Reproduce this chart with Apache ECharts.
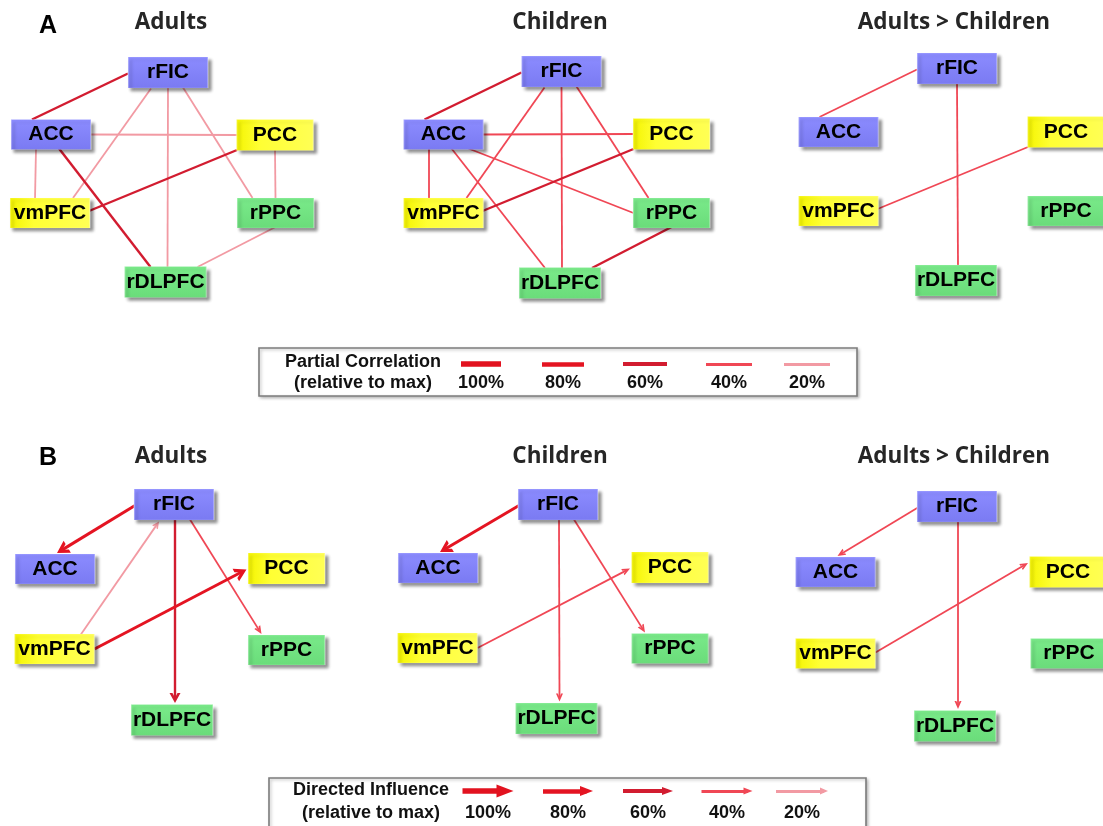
<!DOCTYPE html>
<html>
<head>
<meta charset="utf-8">
<script src="https://cdn.jsdelivr.net/npm/echarts@6/dist/echarts.min.js"></script>
<style>
  html, body { margin: 0; padding: 0; background: #ffffff; }
  #chart { width: 1103px; height: 826px; }
</style>
</head>
<body>
<div id="chart"></div>
<script>
// ---------------- data ----------------
const regions = ['rFIC', 'ACC', 'PCC', 'vmPFC', 'rPPC', 'rDLPFC'];
const regionNetwork = { rFIC: 'salience', ACC: 'salience', PCC: 'default', vmPFC: 'default', rPPC: 'central', rDLPFC: 'central' };
const groupTitles = ['Adults', 'Children', 'Adults > Children'];
const panelLetters = ['A', 'B'];
const strengthLevels = [100, 80, 60, 40, 20];
const legendHeadings = [['Partial Correlation', '(relative to max)'], ['Directed Influence', '(relative to max)']];

// undirected partial correlations: [region, region, % of max]
const corrAdults = [
  ['rFIC', 'ACC', 60], ['rFIC', 'vmPFC', 20], ['rFIC', 'rDLPFC', 20], ['rFIC', 'rPPC', 20],
  ['ACC', 'PCC', 20], ['ACC', 'vmPFC', 20], ['ACC', 'rDLPFC', 60],
  ['PCC', 'vmPFC', 60], ['PCC', 'rPPC', 20], ['rPPC', 'rDLPFC', 20]
];
const corrChildren = [
  ['rFIC', 'ACC', 60], ['rFIC', 'vmPFC', 40], ['rFIC', 'rDLPFC', 40], ['rFIC', 'rPPC', 40],
  ['ACC', 'PCC', 40], ['ACC', 'vmPFC', 40], ['ACC', 'rDLPFC', 40], ['ACC', 'rPPC', 40],
  ['PCC', 'vmPFC', 60], ['rPPC', 'rDLPFC', 60]
];
const corrAdultsGtChildren = [['rFIC', 'ACC', 40], ['rFIC', 'rDLPFC', 40], ['PCC', 'vmPFC', 40]];

// directed influence: [source, target, % of max]
const flowAdults = [['rFIC', 'ACC', 80], ['vmPFC', 'rFIC', 20], ['rFIC', 'rDLPFC', 60], ['rFIC', 'rPPC', 40], ['vmPFC', 'PCC', 80]];
const flowChildren = [['rFIC', 'ACC', 80], ['rFIC', 'rDLPFC', 40], ['rFIC', 'rPPC', 40], ['vmPFC', 'PCC', 40]];
const flowAdultsGtChildren = [['rFIC', 'ACC', 40], ['rFIC', 'rDLPFC', 40], ['vmPFC', 'PCC', 40]];

// ---------------- layout ----------------
const W = 1103, H = 826;
const boxSize = { rFIC: [80, 31], ACC: [80, 30], PCC: [77, 31], vmPFC: [80, 30], rPPC: [77, 30], rDLPFC: [82, 31] };
const nodeCenters = [
  [
    { rFIC: [168, 72.5], ACC: [51, 134.5], PCC: [275, 135], vmPFC: [50, 213], rPPC: [275.5, 213], rDLPFC: [165.5, 282] },
    { rFIC: [561.5, 71.5], ACC: [443.5, 134.5], PCC: [671.5, 134], vmPFC: [443.5, 213], rPPC: [671.5, 213], rDLPFC: [560, 283] },
    { rFIC: [957, 68.5], ACC: [838.5, 132], PCC: [1066, 132], vmPFC: [838.5, 211], rPPC: [1066, 211], rDLPFC: [956, 280.5] }
  ],
  [
    { rFIC: [174, 504.5], ACC: [55, 569], PCC: [286.5, 568.5], vmPFC: [54.5, 649], rPPC: [286.5, 650], rDLPFC: [172, 720] },
    { rFIC: [558, 504.5], ACC: [438, 568], PCC: [670, 567.5], vmPFC: [437.5, 648], rPPC: [670, 648.5], rDLPFC: [556.5, 718.5] },
    { rFIC: [957, 506.5], ACC: [835.5, 572], PCC: [1068, 572], vmPFC: [835.5, 653.5], rPPC: [1069, 653.5], rDLPFC: [955, 726] }
  ]
];
// where each connector meets its two boxes (offset from box centre)
const corrAnchors = {
  'rFIC-ACC': [[-40, 1], [-19, -15]],
  'rFIC-vmPFC': [[-17, 16], [23, -15]],
  'rFIC-rDLPFC': [[0, 15], [2, -15]],
  'rFIC-rPPC': [[15, 15], [-23, -15]],
  'ACC-PCC': [[39, 0], [-37, 0]],
  'ACC-vmPFC': [[-15, 14], [-15, -14]],
  'ACC-rDLPFC': [[8, 14], [-15, -15]],
  'ACC-rPPC': [[25, 14], [-38, 0]],
  'PCC-vmPFC': [[-38, 15], [39, -2]],
  'PCC-rPPC': [[0, 15], [0, -14]],
  'rPPC-rDLPFC': [[0, 14], [32, -15]]
};
const flowAnchors = {
  'rFIC-ACC': [[-39, 1], [2, -16]],
  'vmPFC-rFIC': [[26, -14], [-15, 17]],
  'rFIC-rDLPFC': [[1, 15], [3, -17]],
  'rFIC-rPPC': [[16, 15], [-25, -16]],
  'vmPFC-PCC': [[40, 0], [-40, 1]]
};
const flowAnchorOverrides = [{}, {}, { 'vmPFC-PCC': [[40, -1], [-40, -9]] }];

const titleX = [171, 560, 954];
const titleY = [23, 457];
const letterPos = [[48, 26], [48, 458]];

const legendBox = [{ x: 259, y: 348, w: 598, h: 48 }, { x: 269, y: 778, w: 597, h: 56 }];
const legendTextX = [363, 371];
const legendRowY = [[362, 383], [790, 813]];
const legendKeyX = [[481, 563, 645, 729, 807], [488, 568, 648, 727, 802]];
const legendKeyLen = [[40, 42, 44, 46, 46], [51, 50, 50, 51, 52]];
const legendKeyY = [364, 791];

// ---------------- styles ----------------
const levelStyle = {
  100: { color: '#E2121F', line: 3.5, head: [14, 12], keyLine: 5.5, keyHead: [13, 17] },
  80:  { color: '#E41422', line: 3,   head: [14, 12], keyLine: 4.5, keyHead: [10, 13] },
  60:  { color: '#D21C30', line: 2.4, head: [11, 10], keyLine: 4,   keyHead: [8, 11] },
  40:  { color: '#F04755', line: 1.8, head: [7, 8],   keyLine: 3,   keyHead: [7, 9] },
  20:  { color: '#F29AA3', line: 1.8, head: [7, 7],   keyLine: 3,   keyHead: [7, 8] }
};
const networkFill = {
  salience: { type: 'linear', x: 0, y: 0, x2: 0, y2: 1, colorStops: [{ offset: 0, color: '#8C8CFF' }, { offset: 1, color: '#7A7AF2' }] },
  default:  { type: 'linear', x: 0, y: 0, x2: 1, y2: 0, colorStops: [{ offset: 0, color: '#F4F400' }, { offset: 0.3, color: '#FFFF33' }, { offset: 1, color: '#FFFF55' }] },
  central:  { type: 'linear', x: 0, y: 0, x2: 0, y2: 1, colorStops: [{ offset: 0, color: '#7AEA8A' }, { offset: 1, color: '#6ADC7A' }] }
};
const chevron = 'path://M5,0 L10,10 L7.3,10 L5,5.2 L2.7,10 L0,10 Z';
const triangle = 'path://M5,0 L10,10 L0,10 Z';
const FONT = '"Liberation Sans", Arial, sans-serif';
const TITLE_FONT = 'bold 22.5px "Open Sans", Lato, sans-serif';

// ---------------- builders ----------------
function pullBack(p1, p2, d) {
  const dx = p2[0] - p1[0], dy = p2[1] - p1[1];
  const len = Math.hypot(dx, dy);
  return [p2[0] - dx / len * d, p2[1] - dy / len * d];
}

function edgeItems(row, panel, edges, anchors, directed) {
  const c = nodeCenters[row][panel];
  return edges.map(([a, b, lvl]) => {
    const key = a + '-' + b;
    const anc = anchors[key];
    const p1 = [c[a][0] + anc[0][0], c[a][1] + anc[0][1]];
    const tip = [c[b][0] + anc[1][0], c[b][1] + anc[1][1]];
    const st = levelStyle[lvl];
    const item = { name: key, value: lvl, lineStyle: { color: st.color, width: st.line } };
    if (directed) {
      item.coords = [p1, pullBack(p1, tip, st.head[1] / 2)];
      item.symbol = ['none', chevron];
      item.symbolSize = [st.head, st.head];
    } else {
      item.coords = [p1, tip];
    }
    return item;
  });
}

function nodeItems(row, panel) {
  const c = nodeCenters[row][panel];
  return regions.map(r => ({
    name: r,
    value: c[r],
    symbolSize: boxSize[r],
    itemStyle: { color: networkFill[regionNetwork[r]] }
  }));
}

const corrSets = [corrAdults, corrChildren, corrAdultsGtChildren];
const flowSets = [flowAdults, flowChildren, flowAdultsGtChildren];

let corrData = [], flowData = [], nodeData = [];
for (let p = 0; p < 3; p++) {
  corrData = corrData.concat(edgeItems(0, p, corrSets[p], corrAnchors, false));
  const fa = Object.assign({}, flowAnchors, flowAnchorOverrides[p]);
  flowData = flowData.concat(edgeItems(1, p, flowSets[p], fa, true));
  nodeData = nodeData.concat(nodeItems(0, p), nodeItems(1, p));
}

// legend keys, drawn with the same level styles
const keyData = [];
strengthLevels.forEach((lvl, i) => {
  const st = levelStyle[lvl];
  const xa = legendKeyX[0][i], la = legendKeyLen[0][i];
  keyData.push({ coords: [[xa - la / 2, legendKeyY[0]], [xa + la / 2, legendKeyY[0]]], lineStyle: { color: st.color, width: st.keyLine } });
  const xb = legendKeyX[1][i], lb = legendKeyLen[1][i];
  const s = [xb - lb / 2, legendKeyY[1]], e = [xb + lb / 2, legendKeyY[1]];
  keyData.push({
    coords: [s, pullBack(s, e, st.keyHead[1] / 2)],
    lineStyle: { color: st.color, width: st.keyLine },
    symbol: ['none', triangle],
    symbolSize: [st.keyHead, st.keyHead]
  });
});

// ---------------- text & frames ----------------
function txt(text, x, y, font, fill, align) {
  return {
    type: 'text', z: 20, silent: true,
    style: { text, x, y, font, fill: fill || '#111', align: align || 'center', textAlign: align || 'center', verticalAlign: 'middle', textVerticalAlign: 'middle' }
  };
}
const graphics = [];
legendBox.forEach(b => graphics.push({
  type: 'rect', z: 0, silent: true,
  shape: { x: b.x, y: b.y, width: b.w, height: b.h },
  style: { fill: '#ffffff', stroke: '#7c7c7c', lineWidth: 1.6, shadowBlur: 3, shadowColor: 'rgba(0,0,0,0.25)', shadowOffsetX: 1.5, shadowOffsetY: 1.5 }
}));
panelLetters.forEach((L, r) => {
  graphics.push(txt(L, letterPos[r][0], letterPos[r][1], 'bold 25px ' + FONT, '#000'));
  groupTitles.forEach((t, p) => graphics.push(txt(t, titleX[p], titleY[r], TITLE_FONT, '#262626')));
  legendHeadings[r].forEach((t, k) => graphics.push(txt(t, legendTextX[r], legendRowY[r][k], 'bold 18px ' + FONT, '#111')));
  strengthLevels.forEach((lvl, i) => graphics.push(txt(lvl + '%', legendKeyX[r][i], legendRowY[r][1], 'bold 18px ' + FONT, '#111')));
});

// ---------------- chart ----------------
const chart = echarts.init(document.getElementById('chart'), null, { renderer: 'canvas' });
chart.setOption({
  backgroundColor: '#ffffff',
  animation: false,
  grid: { left: 0, right: 0, top: 0, bottom: 0, containLabel: false },
  xAxis: { type: 'value', min: 0, max: W, show: false },
  yAxis: { type: 'value', min: 0, max: H, inverse: true, show: false },
  graphic: { elements: graphics },
  series: [
    {
      name: 'partial correlation', type: 'lines', coordinateSystem: 'cartesian2d', z: 2, silent: true,
      symbol: ['none', 'none'], lineStyle: { opacity: 1, curveness: 0 }, data: corrData
    },
    {
      name: 'directed influence', type: 'lines', coordinateSystem: 'cartesian2d', z: 2, silent: true,
      symbol: ['none', 'none'], lineStyle: { opacity: 1, curveness: 0 }, data: flowData
    },
    {
      name: 'legend keys', type: 'lines', coordinateSystem: 'cartesian2d', z: 5, silent: true,
      symbol: ['none', 'none'], lineStyle: { opacity: 1, curveness: 0 }, data: keyData
    },
    {
      name: 'regions', type: 'scatter', z: 4, silent: true,
      symbol: 'rect',
      itemStyle: {
        opacity: 1, borderColor: 'rgba(255,255,255,0.35)', borderWidth: 1,
        shadowBlur: 3, shadowColor: 'rgba(0,0,0,0.45)', shadowOffsetX: 3, shadowOffsetY: 3
      },
      label: {
        show: true, position: 'inside', formatter: '{b}',
        fontFamily: FONT, fontWeight: 'bold', fontSize: 21, color: '#000'
      },
      data: nodeData
    }
  ]
});
</script>
</body>
</html>
